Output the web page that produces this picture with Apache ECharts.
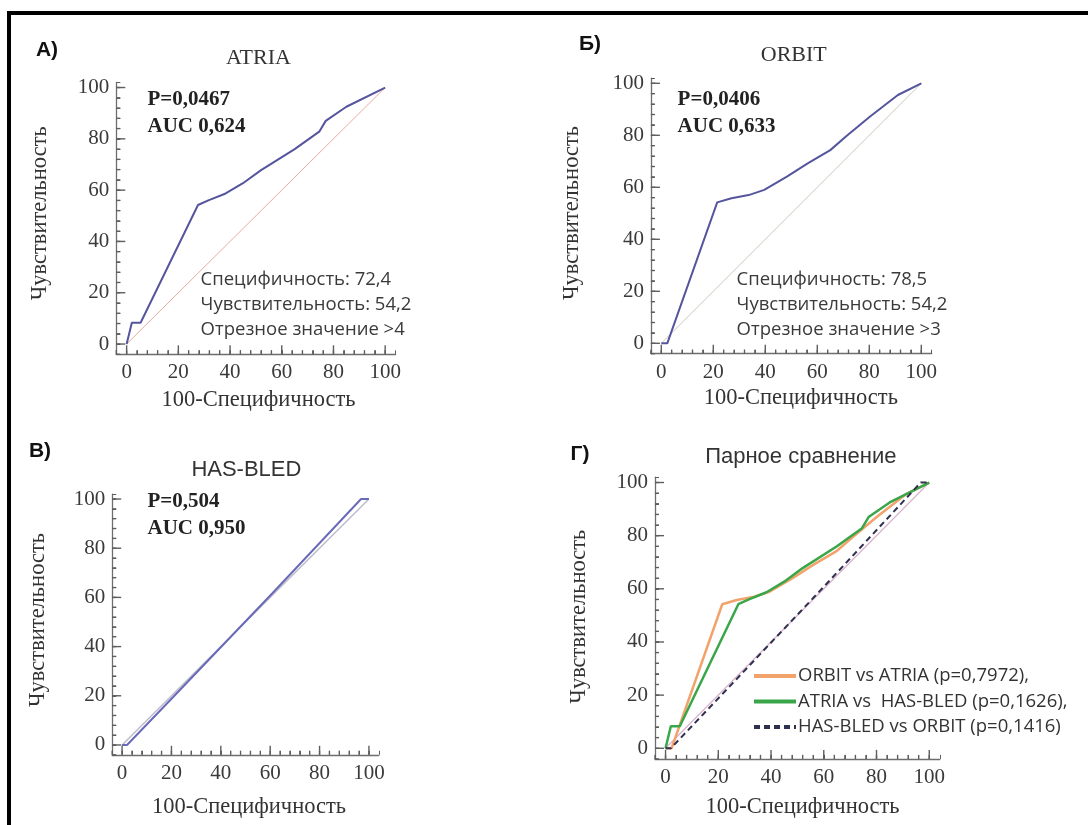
<!DOCTYPE html>
<html><head><meta charset="utf-8">
<script src="https://cdn.jsdelivr.net/npm/echarts@6/dist/echarts.min.js"></script>
<style>html,body{margin:0;padding:0;background:#fff}#c{width:1088px;height:825px}</style>
</head><body><div id="c"></div>
<script>
// ---- data ----
const tickValues = [0, 20, 40, 60, 80, 100];
const minorTickValues = [-4, 0, 4, 8, 12, 16, 20, 24, 28, 32, 36, 40, 44, 48, 52, 56, 60, 64, 68, 72, 76, 80, 84, 88, 92, 96, 100];
const atria = [[0,0],[2,8.3],[5.4,8.3],[27.6,54.2],[31.6,56],[38.3,58.7],[45,62.7],[52,67.8],[65,76],[74.5,82.8],[77,87],[85,92.5],[100,100]];
const orbit = [[0,0],[2.3,0],[21.5,54.2],[27,55.8],[33.6,57],[39.6,59],[48.3,64.1],[56.3,69.2],[65,74.3],[71,79.5],[80.3,87.2],[91,95.5],[100,100]];
const hasbled = [[0,0],[2,0],[20.8,19.6],[60.9,61.7],[96.8,100],[100,100]];
const diagonal = [[0,0],[100,100]];
const panelLabels = ['А)', 'Б)', 'В)', 'Г)'];
const panelTitles = ['ATRIA', 'ORBIT', 'HAS-BLED', 'Парное сравнение'];
const pValues = ['P=0,0467', 'P=0,0406', 'P=0,504'];
const aucValues = ['AUC 0,624', 'AUC 0,633', 'AUC 0,950'];
const specValues = ['72,4', '78,5'];
const sensValues = ['54,2', '54,2'];
const cutoffValues = ['>4', '>3'];
const legendNames = ['ORBIT vs ATRIA (p=0,7972),', 'ATRIA vs  HAS-BLED (p=0,1626),', 'HAS-BLED vs ORBIT (p=0,1416)'];
const yName = 'Чувствительность';
const xName = '100-Специфичность';

// ---- layout ----
const SERIF = 'Liberation Serif';
const SANS = 'Open Sans';
const ARIAL = 'Liberation Sans';
const AXIS_MIN = -4;
const gridBoxes = [
  {left: 116.3, top: 82.4, width: 279.2, height: 271.9},
  {left: 650.9, top: 78.1, width: 280.8, height: 275.6},
  {left: 112.2, top: 494.1, width: 266.6, height: 260.7},
  {left: 655, top: 477.2, width: 284.8, height: 281.7}
];
const axisColor = '#6e6e6e';
const tickColor = '#5e5e5e';
const labelFmt = v => (v % 20 === 0 && v >= 0 && v <= 100) ? String(v) : '';
const xAxes = [], yAxes = [];
gridBoxes.forEach((box, i) => {
  xAxes.push({
    type: 'value', gridIndex: i, position: 'bottom', min: AXIS_MIN, max: 104, interval: 4,
    axisLine: {show: true, onZero: false, lineStyle: {color: axisColor, width: 1.3}},
    axisTick: {show: true, inside: true, length: 4, lineStyle: {color: tickColor, width: 1}},
    axisLabel: {show: true, formatter: labelFmt, margin: 8, color: '#3a3a3a', fontFamily: SERIF, fontSize: 21},
    splitLine: {show: false}
  });
  yAxes.push({
    type: 'value', gridIndex: i, position: 'left', min: AXIS_MIN, max: 102, interval: 4,
    axisLine: {show: true, onZero: false, lineStyle: {color: axisColor, width: 1.3}},
    axisTick: {show: true, inside: true, length: 4, lineStyle: {color: tickColor, width: 1}},
    axisLabel: {show: true, formatter: labelFmt, margin: 7, color: '#3a3a3a', fontFamily: SERIF, fontSize: 21},
    splitLine: {show: false}
  });
});

// inside ticks (minor every 4, major every 20), placed through the axis scales
const tickData = [];
minorTickValues.forEach(v => { tickData.push([0, v, 4]); tickData.push([1, v, 4]); });
tickValues.forEach(v => { tickData.push([0, v, 9]); tickData.push([1, v, 9]); });
function renderTick(params, api) {
  const isY = api.value(0) === 1, v = api.value(1), len = api.value(2);
  const p = isY ? api.coord([AXIS_MIN, v]) : api.coord([v, AXIS_MIN]);
  const shape = isY
    ? {x1: p[0], y1: p[1], x2: p[0] + len, y2: p[1]}
    : {x1: p[0], y1: p[1], x2: p[0], y2: p[1] - len};
  return {type: 'line', shape: shape, style: {stroke: tickColor, lineWidth: 1.4}, silent: true};
}

function line(name, data, gi, color, width, type) {
  return {
    type: 'line', name: name, data: data, xAxisIndex: gi, yAxisIndex: gi,
    symbol: 'none', silent: true,
    lineStyle: {color: color, width: width, type: type || 'solid'},
    itemStyle: {color: color}
  };
}
const series = [];
gridBoxes.forEach((box, i) => {
  series.push({type: 'custom', name: 'ticks' + i, xAxisIndex: i, yAxisIndex: i, data: tickData,
    renderItem: renderTick, silent: true, clip: false, z: 5});
});
series.push(
  line('diagA', diagonal, 0, '#e8aaa0', 1),
  line('ATRIA', atria, 0, '#55559e', 2),
  line('diagB', diagonal, 1, '#ccc6b8', 1),
  line('ORBIT', orbit, 1, '#55559e', 2),
  line('diagC', diagonal, 2, '#bcbccc', 1.5),
  line('HAS-BLED', hasbled, 2, '#6a6ab8', 2),
  line('diagD', diagonal, 3, '#d9b2cc', 1.2),
  line(legendNames[0], orbit, 3, '#f2a36b', 2.5),
  line(legendNames[1], atria, 3, '#3aa64a', 2.5),
  line(legendNames[2], hasbled, 3, '#2e3050', 2, [6, 4])
);

// ---- texts ----
const gfx = [];
gfx.push({type: 'rect', shape: {x: 7, y: 11, width: 1081, height: 4}, style: {fill: '#000'}, silent: true});
gfx.push({type: 'rect', shape: {x: 7, y: 11, width: 4, height: 814}, style: {fill: '#000'}, silent: true});
function txt(text, x, y, opts) {
  const o = Object.assign({size: 19, family: SERIF, weight: 'normal', color: '#333', align: 'left', rot: 0}, opts || {});
  gfx.push({type: 'text', x: x, y: y, rotation: o.rot, silent: true,
    style: {text: text, fill: o.color, fontSize: o.size, fontFamily: o.family, fontWeight: o.weight,
      align: o.align, verticalAlign: 'middle'}});
}
const labelPos = [[47, 50], [590, 44], [40, 451], [580, 454]];
const titlePos = [[258.5, 58.3], [793.8, 55], [246.4, 470], [800.8, 456.7]];
const yNamePos = [[40, 213.3], [571.8, 213], [38.2, 620], [578.7, 616.7]];
const xNamePos = [[258.5, 400], [800.8, 398.3], [249, 806.7], [802.5, 806.7]];
for (let i = 0; i < 4; i++) {
  txt(panelLabels[i], labelPos[i][0], labelPos[i][1], {family: ARIAL, weight: 'bold', size: 21, color: '#111', align: 'center'});
  txt(panelTitles[i], titlePos[i][0], titlePos[i][1], {family: i < 2 ? SERIF : ARIAL, size: 22, align: 'center'});
  txt(yName, yNamePos[i][0], yNamePos[i][1], {size: 22.5, align: 'center', rot: Math.PI / 2});
  txt(xName, xNamePos[i][0], xNamePos[i][1], {size: 22.5, align: 'center'});
}
const pPos = [[147.5, 100], [677.6, 100], [147.5, 501.7]];
for (let i = 0; i < 3; i++) {
  txt(pValues[i], pPos[i][0], pPos[i][1], {weight: 'bold', size: 21, color: '#222'});
  txt(aucValues[i], pPos[i][0], pPos[i][1] + 26.7, {weight: 'bold', size: 21, color: '#222'});
}
const specPos = [[200.6, 280], [736.6, 280]];
for (let i = 0; i < 2; i++) {
  txt('Специфичность: ' + specValues[i], specPos[i][0], specPos[i][1], {family: SANS, size: 18.5, color: '#3a3a3a'});
  txt('Чувствительность: ' + sensValues[i], specPos[i][0], specPos[i][1] + 25, {family: SANS, size: 18.5, color: '#3a3a3a'});
  txt('Отрезное значение ' + cutoffValues[i], specPos[i][0], specPos[i][1] + 50, {family: SANS, size: 18.5, color: '#3a3a3a'});
}

const option = {
  animation: false,
  grid: gridBoxes,
  xAxis: xAxes,
  yAxis: yAxes,
  legend: {
    data: legendNames, orient: 'vertical', left: 752, top: 666, padding: 0,
    itemWidth: 42, itemHeight: 14, itemGap: 5.5,
    lineStyle: {width: 4},
    itemStyle: {opacity: 0},
    textStyle: {fontFamily: SANS, fontSize: 18.5, color: '#333', lineHeight: 20, padding: [0, 0, 0, -3]}
  },
  series: series,
  graphic: gfx
};
const chart = echarts.init(document.getElementById('c'));
chart.setOption(option);
</script></body></html>
